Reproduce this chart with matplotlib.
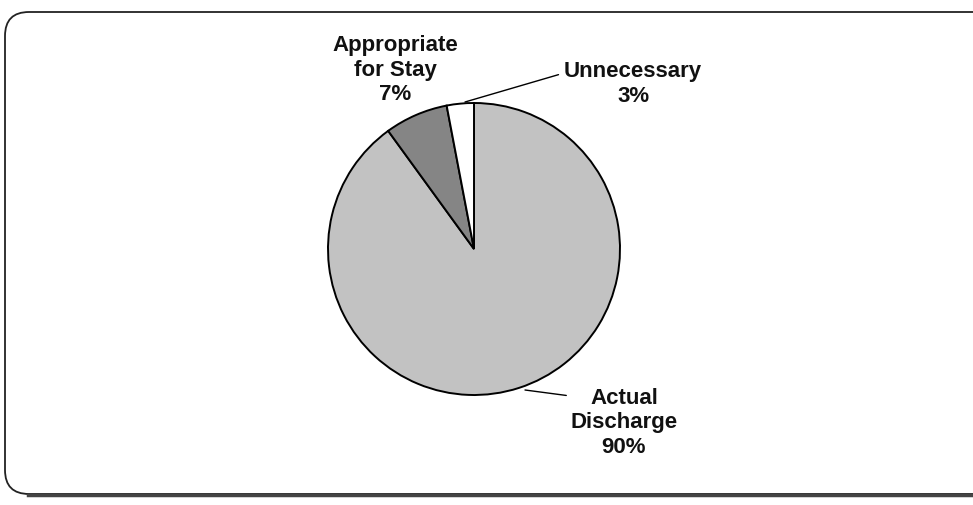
import matplotlib.pyplot as plt
from matplotlib.patches import FancyBboxPatch

labels = ["Actual\nDischarge", "Appropriate\nfor Stay", "Unnecessary"]
values = [90, 7, 3]
colors = ["#c2c2c2", "#858585", "#ffffff"]

plt.rcParams['font.family'] = ['Liberation Sans', 'DejaVu Sans']

fig = plt.figure(figsize=(9.73, 5.06), dpi=100)
ax = fig.add_axes([0, 0, 1, 1])

wedges, _ = ax.pie(values, colors=colors, startangle=90, counterclock=False,
                   center=(474, 256), radius=146,
                   wedgeprops=dict(edgecolor="black", linewidth=1.4))

ax.set_xlim(0, 973)
ax.set_ylim(0, 506)
ax.set_aspect('equal')
ax.axis('off')

# rounded frame (right side runs off the page like the scan)
frame = FancyBboxPatch((5, 11), 1010, 482, boxstyle="round,pad=0,rounding_size=24",
                       fc="none", ec="#222222", lw=1.3, zorder=0)
ax.add_patch(frame)
ax.plot([28, 973], [10, 10], color="#444444", lw=2.5, zorder=1)

fs = 16
# labels with leader lines
ax.text(395, 436, "Appropriate\nfor Stay\n7%", ha="center", va="center",
        fontsize=fs, fontweight="bold", linespacing=1.2, color="#111111")
ax.annotate("Unnecessary\n3%", xy=(465, 403), xytext=(633, 422),
            ha="center", va="center", fontsize=fs, fontweight="bold",
            linespacing=1.2, color="#111111",
            arrowprops=dict(arrowstyle="-", color="black", lw=1,
                            relpos=(0.0, 0.72), shrinkA=2, shrinkB=0))
ax.annotate("Actual\nDischarge\n90%", xy=(525, 115), xytext=(624, 83),
            ha="center", va="center", fontsize=fs, fontweight="bold",
            linespacing=1.2, color="#111111",
            arrowprops=dict(arrowstyle="-", color="black", lw=1,
                            relpos=(0.17, 0.84), shrinkA=1, shrinkB=0))

fig.savefig("out.png", dpi=100)
